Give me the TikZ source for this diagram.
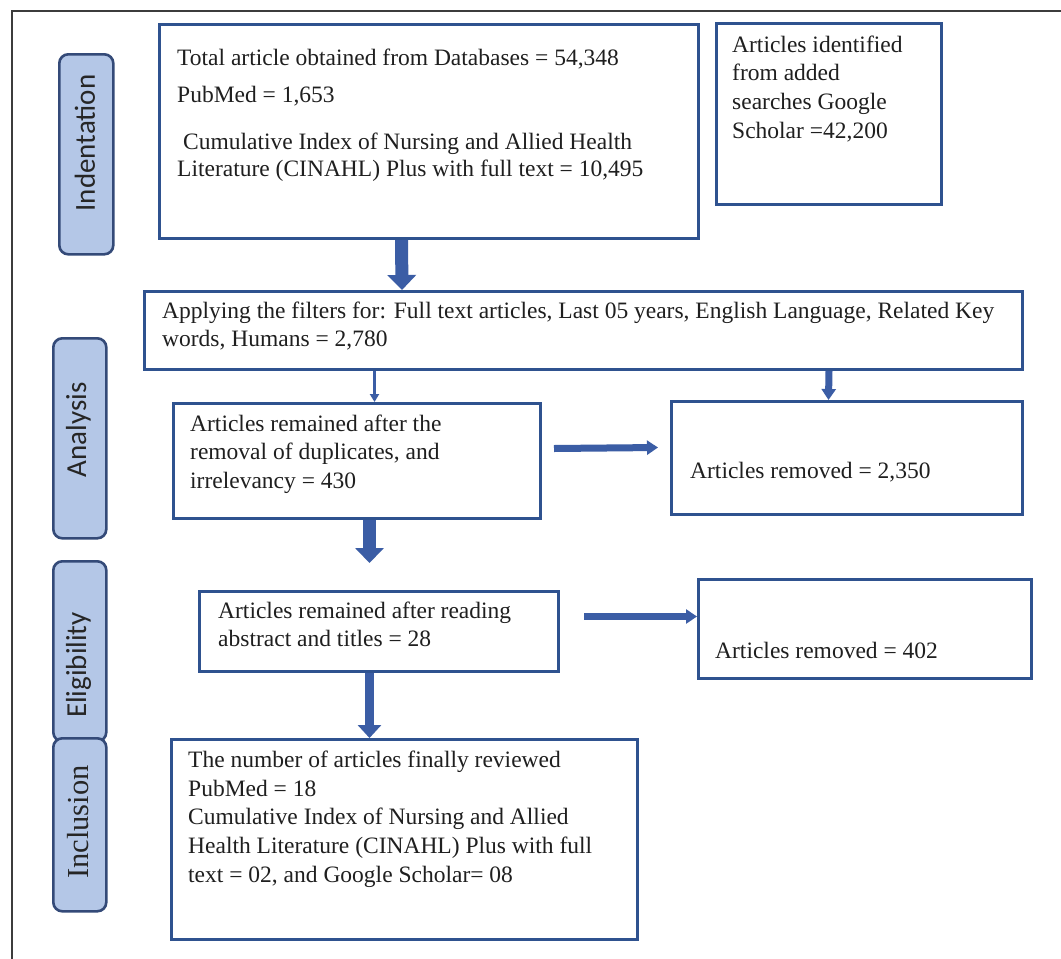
\documentclass[tikz,border=0pt]{standalone}
\usepackage{fontspec}
\setmainfont{Liberation Serif}
\newfontfamily\lblsans{Carlito}
\usetikzlibrary{arrows.meta}
\definecolor{boxblue}{RGB}{47,82,143}
\definecolor{arrblue}{RGB}{59,93,165}
\definecolor{lblfill}{RGB}{180,199,231}
\definecolor{lbldraw}{RGB}{52,74,120}
\definecolor{framegray}{RGB}{60,60,60}
\begin{document}
\begin{tikzpicture}[x=1pt,y=-1pt,
  box/.style={draw=boxblue, line width=3pt, fill=white, rectangle, anchor=north west, inner sep=0pt},
  lbl/.style={draw=lbldraw, fill=lblfill, line width=2.6pt, rounded corners=9pt, rectangle, anchor=north west, inner sep=0pt},
  lblsanstxt/.style={rotate=90, inner sep=0pt, font=\lblsans\fontsize{29}{34}\selectfont, text=black!85},
  lblseriftxt/.style={rotate=90, inner sep=0pt, font=\fontsize{30.5}{36}\selectfont, text=black!85},
  txt/.style={anchor=north west, inner sep=0pt, align=left, text=black!88, font=\fontsize{23.5}{28.7}\selectfont},
  bigarr/.style={draw=arrblue, line width=13pt, -{Triangle[width=28pt,length=15pt]}},
  thinarr/.style={draw=arrblue, line width=3pt, -{Triangle[width=9pt,length=8pt]}},
  midarr/.style={draw=arrblue, line width=7pt, -{Triangle[width=14pt,length=11pt]}},
  medarr/.style={draw=arrblue, line width=9pt, -{Triangle[width=23pt,length=13pt]}},
]
\useasboundingbox (0,0) rectangle (1061,959);
\fill[white] (0,0) rectangle (1061,959);
% outer frame (right and bottom sides fall outside the page)
\draw[framegray, line width=2pt] (12,11) rectangle (1080,980);

% stage labels
\node[lbl, minimum width=54pt, minimum height=200pt] (L1) at (58,53) {};
\node[lblsanstxt] (L1t) at (85,143) {Indentation};
\node[lbl, minimum width=53pt, minimum height=200pt] (L2) at (52,337) {};
\node[lblsanstxt] (L2t) at (78.5,430) {Analysis};
\node[lbl, minimum width=53pt, minimum height=180pt] (L3) at (52,560) {};
\node[lblsanstxt] (L3t) at (78.5,665) {Eligibility};
\node[lbl, minimum width=53pt, minimum height=173pt] (L4) at (52,737) {};
\node[lblseriftxt] (L4t) at (78.5,822) {Inclusion};

% boxes
\node[box, minimum width=539pt, minimum height=214pt] (b1) at (158,23) {};
\node[box, minimum width=225pt, minimum height=181pt] (g) at (715,22) {};
\node[box, minimum width=878pt, minimum height=78pt] (f) at (143,290) {};
\node[box, minimum width=367pt, minimum height=115pt] (r1) at (172,402) {};
\node[box, minimum width=351pt, minimum height=113pt] (x1) at (670,400) {};
\node[box, minimum width=359pt, minimum height=80pt] (r2) at (198,590) {};
\node[box, minimum width=333pt, minimum height=99pt] (x2) at (697,578) {};
\node[box, minimum width=466pt, minimum height=200pt] (fin) at (170,738) {};

% texts
\node[txt] (t1a) at (177,45) {\strut Total article obtained from Databases = 54,348};
\node[txt] (t1b) at (177,82) {\strut PubMed = 1,653};
\node[txt] (t1c) at (177,129) {\strut\ Cumulative Index of Nursing and Allied Health\\[-1.7pt]Literature (CINAHL) Plus with full text = 10,495};
\node[txt] (tg) at (732,32) {\strut Articles identified\\from added\\searches Google\\Scholar =42,200};
\node[txt] (tf) at (162,298) {\strut Applying the filters for: Full text articles, Last 05 years, English Language, Related Key\\words, Humans = 2,780};
\node[txt] (tr1) at (190,411) {\strut Articles remained after the\\removal of duplicates, and\\irrelevancy = 430};
\node[txt] (tx1) at (690,458) {\strut Articles removed = 2,350};
\node[txt] (tr2) at (218,598) {\strut Articles remained after reading\\abstract and titles = 28};
\node[txt] (tx2) at (715,638) {\strut Articles removed = 402};
\node[txt] (tfin) at (188,747) {\strut The number of articles finally reviewed\\PubMed = 18\\Cumulative Index of Nursing and Allied\\Health Literature (CINAHL) Plus with full\\text = 02, and Google Scholar= 08};

% connectors
\draw[bigarr] ([xshift=-27.5pt]b1.south) -- ([xshift=-181.5pt]f.north);
\draw[thinarr] ([xshift=-209pt]f.south) -- ([xshift=17.5pt]r1.north);
\draw[midarr] ([xshift=245.5pt]f.south) -- ([xshift=-18.5pt]x1.north);
\coordinate (a4end) at ([xshift=-9.5pt,yshift=27pt]r2.north);
\draw[bigarr] ([xshift=12.5pt]r1.south) -- (a4end);
\coordinate (a5start) at ([xshift=12pt,yshift=12.5pt]r1.east);
\coordinate (a5end) at ([xshift=-12pt,yshift=10.5pt]x1.west);
\draw[midarr] (a5start) -- (a5end);
\coordinate (a6start) at ([xshift=24pt,yshift=15pt]r2.east);
\draw[midarr] (a6start) -- ([yshift=12.5pt]x2.west);
\draw[medarr] ([xshift=-9.5pt]r2.south) -- ([xshift=-35pt]fin.north);
\end{tikzpicture}
\end{document}
